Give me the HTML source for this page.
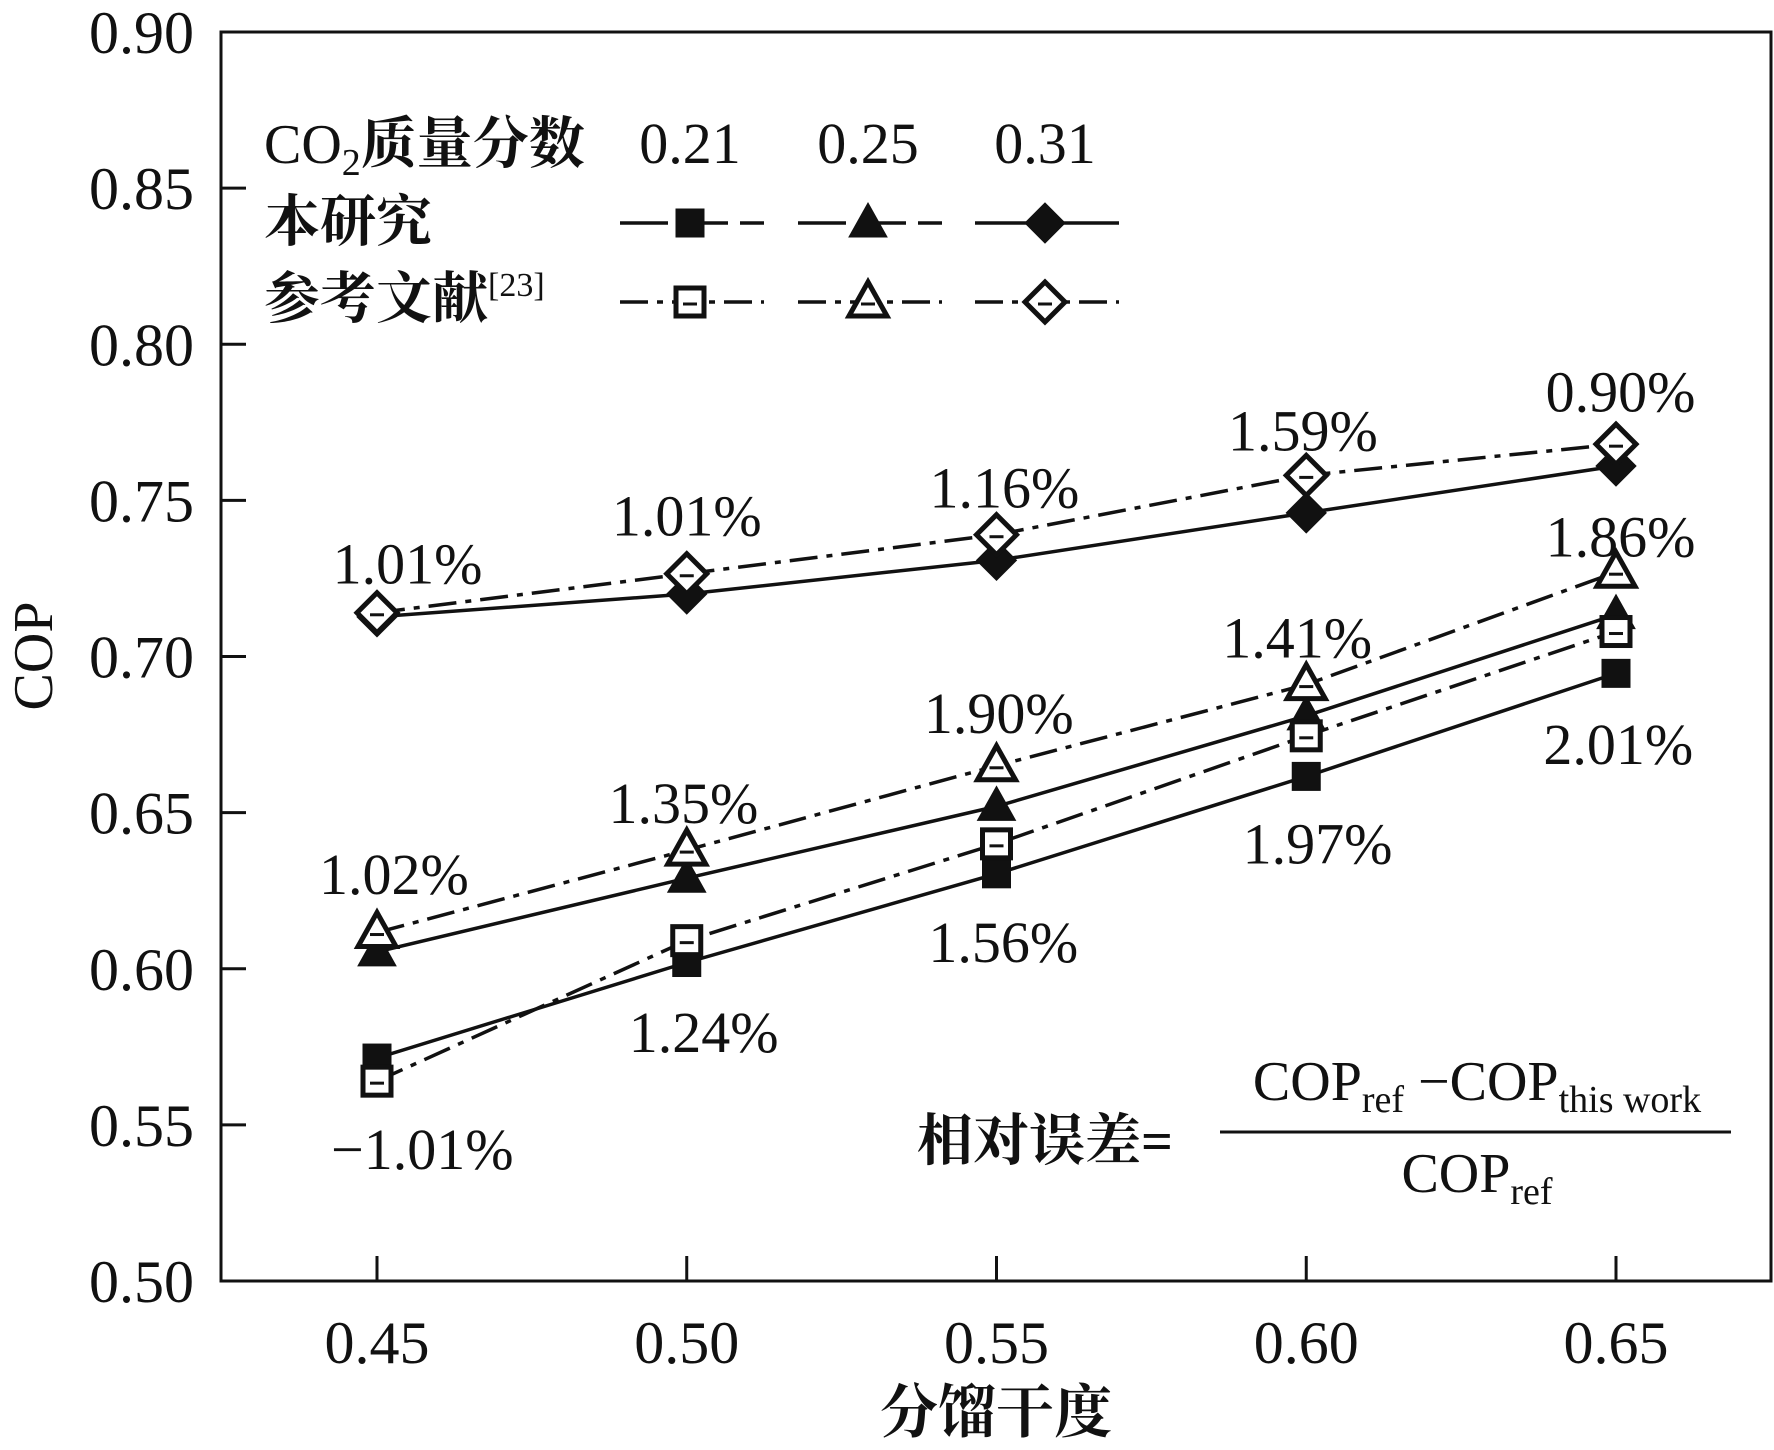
<!DOCTYPE html>
<html><head><meta charset="utf-8"><style>
html,body{margin:0;padding:0;background:#fff}
svg{display:block}
text{font-family:"Liberation Serif","Noto Serif CJK SC",serif;fill:#111}
</style></head><body>
<svg id="c" width="1774" height="1450" viewBox="0 0 1774 1450"></svg>
<script>
const categories=[0.45,0.50,0.55,0.60,0.65];
const xTicks=["0.45","0.50","0.55","0.60","0.65"];
const yTickVals=[0.50,0.55,0.60,0.65,0.70,0.75,0.80,0.85,0.90];
const thisWork021=[0.5714,0.602,0.6304,0.6616,0.6946];
const thisWork025=[0.6054,0.629,0.652,0.681,0.7134];
const thisWork031=[0.7127,0.720,0.7308,0.746,0.761];
const ref021=[0.564,0.609,0.640,0.6746,0.708];
const ref025=[0.6116,0.638,0.665,0.691,0.727];
const ref031=[0.714,0.7265,0.739,0.758,0.768];
const err021=["−1.01%","1.24%","1.56%","1.97%","2.01%"];
const err025=["1.02%","1.35%","1.90%","1.41%","1.86%"];
const err031=["1.01%","1.01%","1.16%","1.59%","0.90%"];

const NS="http://www.w3.org/2000/svg";
const svg=document.getElementById('c');
const L=221,R=1771,T=32,B=1281;
const S=1.1317;
function x(v){return 377+(v-0.45)/0.05*309.75;}
function y(v){return B-(v-0.5)/0.4*(B-T);}
function mk(tag,attrs,parent){const e=document.createElementNS(NS,tag);for(const k in attrs)e.setAttribute(k,attrs[k]);(parent||svg).appendChild(e);return e;}

const frame=mk('rect',{x:L,y:T,width:R-L,height:B-T,fill:'none',stroke:'#111','stroke-width':3});


yTickVals.forEach(v=>{
  const t=mk('line',{x1:L,x2:L+25,y1:y(v),y2:y(v),stroke:'#111','stroke-width':3});
  
  
  const l=mk('text',{x:L-27,y:y(v)+21,'font-size':60,'text-anchor':'end'});
  l.textContent=v.toFixed(2);
  
  
});
categories.forEach((v,i)=>{
  const t=mk('line',{x1:x(v),x2:x(v),y1:B,y2:B-25,stroke:'#111','stroke-width':3});
  
  
  const l=mk('text',{x:x(v),y:B+82,'font-size':60,'text-anchor':'middle'});
  l.textContent=xTicks[i];
  
  
});
const yt=mk('text',{x:0,y:0,'font-size':56,'text-anchor':'middle',transform:'translate(52,656) rotate(-90)'});
yt.textContent='COP';


const xt=mk('text',{x:996,y:1432,'font-size':58,'text-anchor':'middle','font-family':'"Noto Serif CJK SC",serif','font-weight':'bold'});
xt.textContent='分馏干度';



const DASHDOT='28 9 6 9';
function marker(shape,cx,cy,filled,name){
  const g=mk('g',{});
  
  
  const fill=filled?'#111':'#fff';
  const sw=filled?1:5;
  if(shape==='sq'){mk('rect',{x:cx-14,y:cy-14,width:28,height:28,fill:fill,stroke:'#111','stroke-width':sw},g);}
  else if(shape==='tri'){mk('polygon',{points:`${cx},${cy-20} ${cx+19},${cy+14} ${cx-19},${cy+14}`,fill:fill,stroke:'#111','stroke-width':sw},g);}
  else{mk('polygon',{points:`${cx},${cy-20} ${cx+20},${cy} ${cx},${cy+20} ${cx-20},${cy}`,fill:fill,stroke:'#111','stroke-width':sw},g);}
  if(!filled)mk('line',{x1:cx-7,x2:cx+7,y1:cy+2,y2:cy+2,stroke:'#111','stroke-width':3},g);
}
function series(vals,shape,filled,name){
  const pts=vals.map((v,i)=>x(categories[i])+','+y(v)).join(' ');
  const p=mk('polyline',{points:pts,fill:'none',stroke:'#111','stroke-width':3.5,'stroke-dasharray':filled?'none':DASHDOT});
  
  
  return ()=>vals.forEach((v,i)=>marker(shape,x(categories[i]),y(v),filled,name+'-point'));
}
const m=[
 series(thisWork021,'sq',true,'this-work-021'),
 series(thisWork025,'tri',true,'this-work-025'),
 series(thisWork031,'dia',true,'this-work-031'),
 series(ref021,'sq',false,'ref-021'),
 series(ref025,'tri',false,'ref-025'),
 series(ref031,'dia',false,'ref-031')];
m.forEach(f=>f());

function labels(txt,base,dx,dy,name){
  txt.forEach((t,i)=>{
    const e=mk('text',{x:x(categories[i])+dx[i]*S,y:y(base[i])+dy[i]*S,'font-size':58,'text-anchor':'middle'});
    e.textContent=t;
    
    
  });
}
labels(err031,ref031,[27,0,7,-3,4],[-26,-34,-24,-22,-29],'error-label-031');
labels(err025,ref025,[15,-3,2,-8,4],[-34,-24,-29,-24,-14],'error-label-025');
labels(err021,thisWork021,[40,15,6,10,2],[98,79,78,77,80],'error-label-021');

const lg=mk('g',{});


const CJK='"Liberation Serif","Noto Serif CJK SC",serif';
let e=mk('text',{x:264,y:163,'font-size':56,'font-family':CJK,'font-weight':'bold'},lg);
e.innerHTML='<tspan font-weight="normal">CO</tspan><tspan font-weight="normal" font-size="38" dy="12">2</tspan><tspan dy="-12">质量分数</tspan>';


e=mk('text',{x:264,y:241,'font-size':56,'font-family':CJK,'font-weight':'bold'},lg);
e.textContent='本研究';


e=mk('text',{x:264,y:318,'font-size':56,'font-family':CJK,'font-weight':'bold'},lg);
e.innerHTML='参考文献<tspan font-weight="normal" font-size="34" dy="-22">[23]</tspan>';


const cols=[[690,'0.21','sq'],[868,'0.25','tri'],[1045,'0.31','dia']];
cols.forEach((c,i)=>{
  const h=mk('text',{x:c[0],y:163,'font-size':58,'text-anchor':'middle'},lg);
  h.textContent=c[1];
  
  
  const a=mk('line',{x1:c[0]-70,x2:c[0]+74,y1:223,y2:223,stroke:'#111','stroke-width':3.5,'stroke-dasharray':i<2?'48 12':'none'},lg);
  
  
  marker(c[2],c[0],223,true,'legend-this-work-marker');
  const b=mk('line',{x1:c[0]-70,x2:c[0]+74,y1:302,y2:302,stroke:'#111','stroke-width':3.5,'stroke-dasharray':DASHDOT},lg);
  
  
  marker(c[2],c[0],302,false,'legend-ref-marker');
});

const fg=mk('g',{});


e=mk('text',{x:917,y:1160,'font-size':56,'font-family':CJK,'font-weight':'bold'},fg);
e.textContent='相对误差=';
e=mk('text',{x:1477,y:1100,'font-size':56,'text-anchor':'middle'},fg);
e.innerHTML='COP<tspan font-size="38" dy="12">ref</tspan><tspan dy="-12"> −COP</tspan><tspan font-size="38" dy="12">this work</tspan>';
mk('line',{x1:1220,x2:1731,y1:1132,y2:1132,stroke:'#111','stroke-width':3},fg);
e=mk('text',{x:1477,y:1192,'font-size':56,'text-anchor':'middle'},fg);
e.innerHTML='COP<tspan font-size="38" dy="12">ref</tspan>';
</script>
</body></html>
